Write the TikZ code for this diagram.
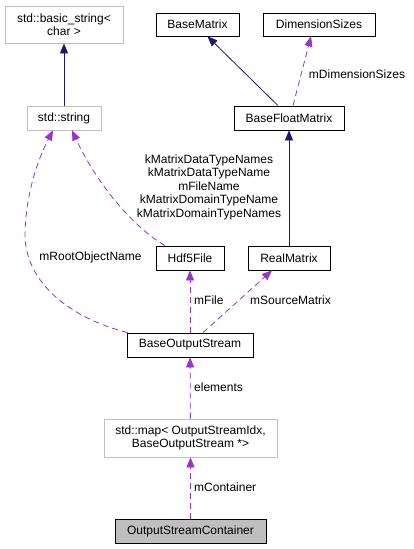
\documentclass[tikz,border=0pt]{standalone}
\usepackage{fontspec}
\setmainfont{Liberation Sans}
\usepackage{tikz}
\usetikzlibrary{positioning,arrows.meta}
\definecolor{inhblue}{HTML}{191970}
\definecolor{usepurple}{HTML}{9A32CD}
\definecolor{extgray}{HTML}{BFBFBF}

\begin{document}
\begin{tikzpicture}[
    x=1pt, y=-1pt,
    every node/.style={font=\fontsize{12}{13.5}\selectfont},
    cls/.style={draw, line width=0.8pt, minimum height=24pt, inner sep=0pt, align=center},
    ext/.style={cls, draw=extgray},
    cur/.style={cls, fill=extgray},
    inh/.style={-{Triangle[length=10pt, width=8pt]}, inhblue, line width=0.8pt},
    use/.style={-{Triangle[length=10pt, width=8pt]}, usepurple, line width=0.8pt, dash pattern=on 6pt off 4pt},
    lbl/.style={align=center, inner sep=0pt}
]
\useasboundingbox (0,0) rectangle (413,549);

\node[ext, minimum width=118pt, minimum height=37pt] (basicstr) at (64,24.5) {std::basic\_string<\\char >};
\node[cls, minimum width=83pt, minimum height=23pt] (basemat) at (197.5,24.5) {BaseMatrix};
\node[cls, minimum width=112pt, minimum height=23pt] (dimsizes) at (319,24.5) {DimensionSizes};
\node[ext, minimum width=74pt] (stdstr) at (64,118) {std::string};
\node[cls, minimum width=110pt] (basefloat) at (289,118) {BaseFloatMatrix};
\node[cls, minimum width=68pt] (hdf) at (190,258) {Hdf5File};
\node[cls, minimum width=82pt] (realmat) at (289,258) {RealMatrix};
\node[cls, minimum width=126pt] (bos) at (190,345) {BaseOutputStream};
\node[ext, minimum width=173pt, minimum height=38pt] (map) at (190.5,438) {std::map< OutputStreamIdx,\\BaseOutputStream *>};
\node[cur, minimum width=151pt] (container) at (190.5,531) {OutputStreamContainer};

\draw[inh] (stdstr) -- (basicstr);
\draw[inh] ([xshift=-11pt]basefloat.north) -- ([xshift=10pt]basemat.south);
\draw[use] ([xshift=4pt]basefloat.north) -- ([xshift=-8pt]dimsizes.south);
\draw[inh] (realmat) -- (basefloat);
\draw[use] ([xshift=-25pt]hdf.north) .. controls (130,225) and (95,180) .. ([xshift=8pt]stdstr.south);
\draw[use] ([xshift=1pt]bos.north west) .. controls (70,318) and (24,282) .. (25,233)
    .. controls (26,190) and (40,155) .. ([xshift=-11pt]stdstr.south);
\draw[use] (bos) -- (hdf);
\draw[use] ([xshift=13pt]bos.north) -- ([xshift=-17pt]realmat.south);
\draw[use] (map) -- (bos);
\draw[use] (container) -- (map);

\node[lbl] (lbldim) at (357,74) {mDimensionSizes};
\node[lbl] (lblhdf) at (209,187) {kMatrixDataTypeNames\\kMatrixDataTypeName\\mFileName\\kMatrixDomainTypeName\\kMatrixDomainTypeNames};
\node[lbl] (lblroot) at (90.5,257) {mRootObjectName};
\node[lbl, anchor=west] (lblfile) at (194,300) {mFile};
\node[lbl, anchor=west] (lblsrc) at (250,300) {mSourceMatrix};
\node[lbl, anchor=west] (lblelem) at (194,387) {elements};
\node[lbl, anchor=west] (lblcont) at (194,487) {mContainer};
\end{tikzpicture}
\end{document}
